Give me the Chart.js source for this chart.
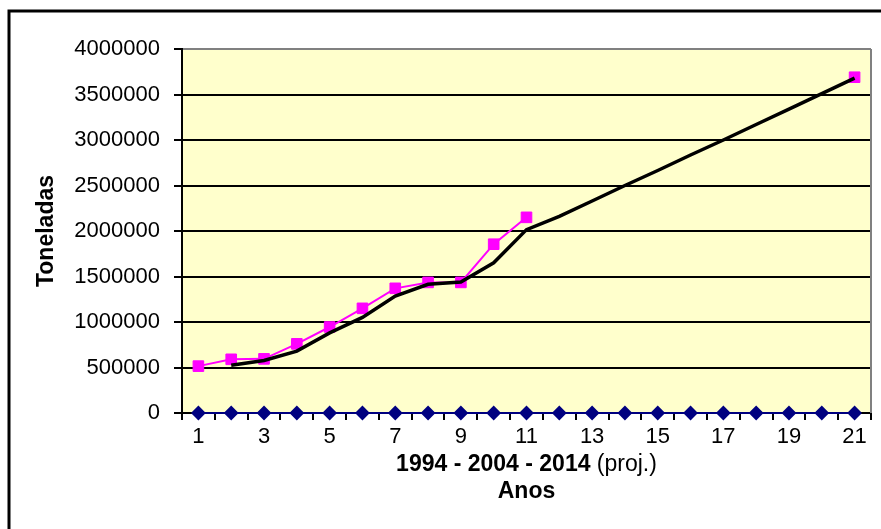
<!DOCTYPE html>
<html>
<head>
<meta charset="utf-8">
<script src="https://cdn.jsdelivr.net/npm/chart.js@4/dist/chart.umd.min.js"></script>
<style>
    html, body { margin: 0; padding: 0; background: #ffffff; overflow: hidden; }
    #wrap { width: 881px; height: 529px; position: relative; }
</style>
</head>
<body>
<div id="wrap"><canvas id="chart"></canvas></div>
<script>
const anos = ['1', '2', '3', '4', '5', '6', '7', '8', '9', '10', '11',
    '12', '13', '14', '15', '16', '17', '18', '19', '20', '21'];

// producao registrada (ate 2004) e o valor projetado para 2014
const producao = [515000, 590000, 595000, 760000, 945000, 1150000, 1370000, 1435000, 1435000, 1855000, 2150000,
    null, null, null, null, null, null, null, null, null, 3690000];

// tendencia com projecao ate 2014
const tendencia = [null, 525000, 577000, 680000, 880000, 1050000, 1285000, 1415000, 1440000, 1650000, 2015000,
    2160000, 2330000, 2500000, 2665000, 2835000, 3000000, 3170000, 3340000, 3510000, 3680000];

const base = [0, 0, 0, 0, 0, 0, 0, 0, 0, 0, 0, 0, 0, 0, 0, 0, 0, 0, 0, 0, 0];

const yTicks = { min: 0, max: 4000000, step: 500000 };

const FONT = "'Liberation Sans', Arial, sans-serif";

// fundo amarelo da area do grafico, moldura externa e subtitulo com fontes mistas
const molduraPlugin = {
    id: 'moldura',
    beforeDraw(chart) {
        const { ctx, chartArea: a } = chart;
        ctx.save();
        ctx.fillStyle = '#ffffff';
        ctx.fillRect(0, 0, chart.width, chart.height);
        ctx.fillStyle = '#ffffcc';
        ctx.fillRect(a.left, a.top, a.right - a.left, a.bottom - a.top);
        ctx.strokeStyle = '#000000';
        ctx.lineWidth = 3;
        ctx.strokeRect(9, 11, 1000, 700);
        ctx.restore();
    },
    beforeDatasetsDraw(chart) {
        const { ctx, chartArea: a } = chart;
        ctx.save();
        ctx.strokeStyle = '#808080';
        ctx.lineWidth = 2;
        ctx.beginPath();
        ctx.moveTo(a.right, a.top);
        ctx.lineTo(a.right, a.bottom);
        ctx.stroke();
        ctx.restore();
    },
    afterDraw(chart) {
        const { ctx, chartArea: a } = chart;
        const negrito = '1994 - 2004 - 2014';
        const normal = ' (proj.)';
        ctx.save();
        ctx.fillStyle = '#000000';
        ctx.textBaseline = 'middle';
        ctx.font = 'bold 23px ' + FONT;
        const w1 = ctx.measureText(negrito).width;
        ctx.font = '23px ' + FONT;
        const w2 = ctx.measureText(normal).width;
        const x0 = (a.left + a.right) / 2 - (w1 + w2) / 2;
        const y = chart.scales.x.top + 52;
        ctx.font = 'bold 23px ' + FONT;
        ctx.fillText(negrito, x0, y);
        ctx.font = '23px ' + FONT;
        ctx.fillText(normal, x0 + w1, y);
        ctx.restore();
    }
};

new Chart(document.getElementById('chart').getContext('2d'), {
    type: 'line',
    data: {
        labels: anos,
        datasets: [
            {
                label: 'Tendência',
                data: tendencia,
                borderColor: '#000000',
                borderWidth: 3.5,
                pointRadius: 0,
                tension: 0,
                order: 0,
            },
            {
                label: 'Produção',
                data: producao,
                borderColor: '#ff00ff',
                backgroundColor: '#ff00ff',
                borderWidth: 2,
                pointStyle: 'rect',
                pointRadius: 7.5,
                pointBorderWidth: 1,
                tension: 0,
                order: 1,
            },
            {
                label: 'Base',
                data: base,
                borderColor: '#000080',
                backgroundColor: '#000080',
                borderWidth: 2,
                pointStyle: 'rectRot',
                pointRadius: 6,
                tension: 0,
                clip: false,
                order: 2,
            },
        ],
    },
    options: {
        responsive: true,
        maintainAspectRatio: false,
        animation: false,
        layout: {
            padding: { top: 49, right: 10, bottom: 0, left: 0 },
        },
        plugins: {
            legend: { display: false },
            tooltip: { enabled: false },
        },
        scales: {
            x: {
                offset: true,
                afterFit(scale) { scale.height = 116; },
                grid: {
                    offset: true,
                    drawOnChartArea: false,
                    color: '#000000',
                    lineWidth: 2,
                    tickLength: 7,
                },
                border: { color: '#000000', width: 2 },
                ticks: {
                    autoSkip: false,
                    maxRotation: 0,
                    padding: 4,
                    color: '#000000',
                    font: { family: FONT, size: 22 },
                    callback(value, index) {
                        return index % 2 === 0 ? this.getLabelForValue(value) : '';
                    },
                },
                title: {
                    display: true,
                    text: 'Anos',
                    color: '#000000',
                    font: { family: FONT, size: 23, weight: 'bold' },
                    padding: { top: 0, bottom: 24 },
                },
            },
            y: {
                min: yTicks.min,
                max: yTicks.max,
                afterFit(scale) { scale.width = 182; },
                grid: {
                    color: (c) => (c.tick && c.tick.value === yTicks.max ? '#808080' : '#000000'),
                    tickColor: '#000000',
                    lineWidth: 2,
                    tickLength: 8,
                },
                border: { color: '#000000', width: 2 },
                ticks: {
                    stepSize: yTicks.step,
                    padding: 14,
                    color: '#000000',
                    font: { family: FONT, size: 22 },
                    callback: (v) => String(v),
                },
                title: {
                    display: true,
                    text: 'Toneladas',
                    color: '#000000',
                    font: { family: FONT, size: 23, weight: 'bold' },
                    padding: { top: 33, bottom: 0 },
                },
            },
        },
    },
    plugins: [molduraPlugin],
});
</script>
</body>
</html>
